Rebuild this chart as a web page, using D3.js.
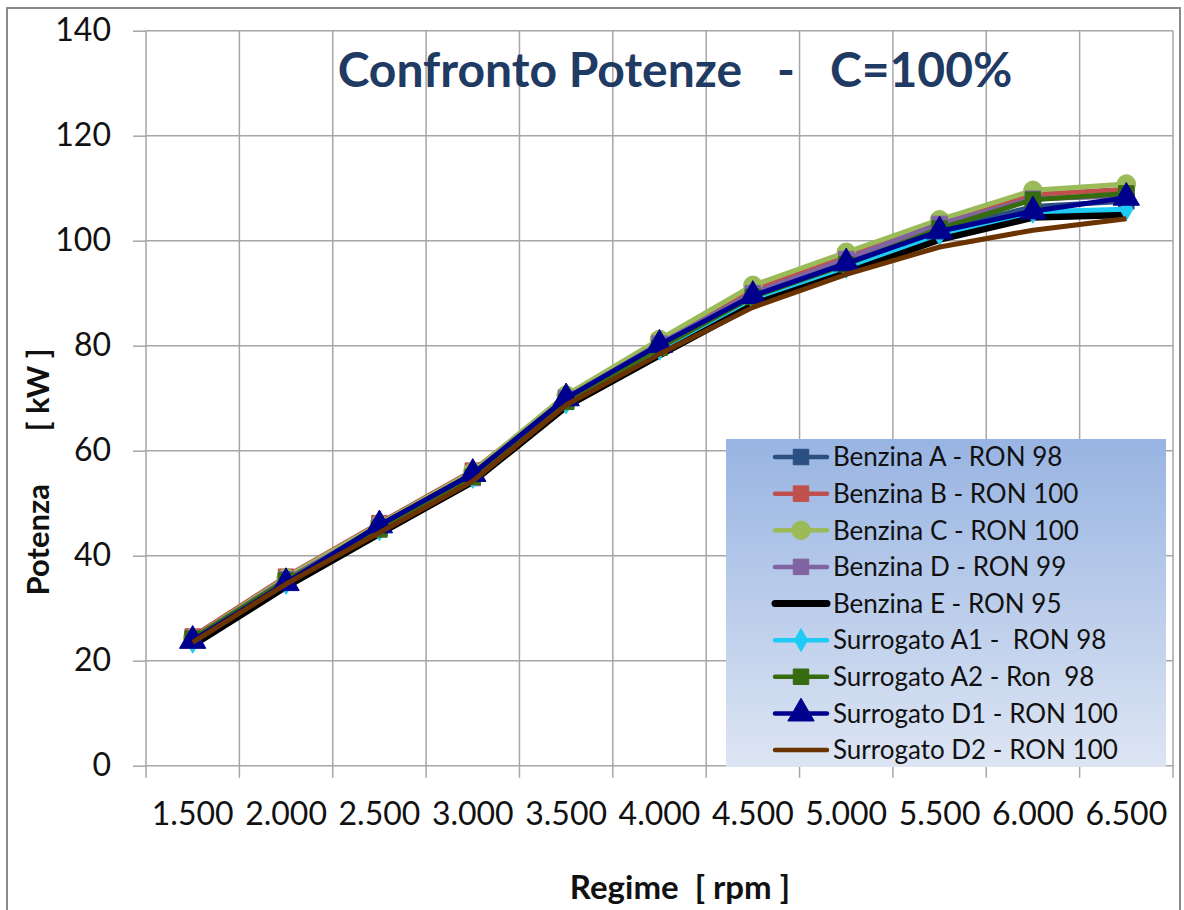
<!DOCTYPE html>
<html><head><meta charset="utf-8">
<script src="https://cdn.jsdelivr.net/npm/d3@7"></script>
<style>
html,body{margin:0;padding:0;background:#fff;}
svg text{font-family:Lato,"Open Sans",sans-serif;}
</style></head>
<body><svg id="chart" width="1184" height="910"></svg>
<script>
const categories = ["1.500","2.000","2.500","3.000","3.500","4.000","4.500","5.000","5.500","6.000","6.500"];
const yTicks = [0,20,40,60,80,100,120,140];
const seriesNames = ["Benzina A - RON 98","Benzina B - RON 100","Benzina C - RON 100","Benzina D - RON 99","Benzina E - RON 95","Surrogato A1 -  RON 98","Surrogato A2 - Ron  98","Surrogato D1 - RON 100","Surrogato D2 - RON 100"];
const benzinaA  = [24.0,35.2,45.3,55.2,69.5,79.8,89.5,95.5,102.0,106.5,107.5];
const benzinaB  = [24.6,36.0,46.2,56.2,70.2,80.8,90.5,97.0,103.5,108.8,109.8];
const benzinaC  = [24.3,35.8,46.0,56.0,70.6,81.2,91.5,97.8,104.0,109.6,110.8];
const benzinaD  = [24.2,35.5,45.5,54.8,70.0,80.4,90.0,96.5,103.2,108.0,108.5];
const benzinaE  = [23.0,34.2,44.3,54.2,68.5,78.3,87.8,94.0,100.3,104.5,105.0];
const surrA1    = [23.6,34.8,45.0,55.0,69.2,79.4,89.0,95.0,101.3,105.5,106.0];
const surrA2    = [24.2,35.3,45.0,55.0,69.3,79.6,89.3,95.5,102.3,107.8,109.0];
const surrD1    = [23.8,34.8,45.8,55.6,70.0,80.2,89.5,95.7,101.8,105.6,108.2];
const surrD2    = [23.5,34.6,44.4,54.2,68.7,78.4,87.3,93.6,98.8,102.0,104.2];
const seriesValues = [benzinaA,benzinaB,benzinaC,benzinaD,benzinaE,surrA1,surrA2,surrD1,surrD2];
const colors = ["#2a4f80","#c0504d","#9bbb59","#8064a2","#000000","#1ecbf5","#376b10","#00008f","#6b3300"];
const markers = ["square","square","circle","square",null,"diamond","square","triangle",null];
const widths = [5,5,5,5,7.5,5,5,5,5];

const svg = d3.select("#chart");
const L=146,R=1173,T=30.7,B=765.7;
const x = d3.scaleBand().domain(categories).range([L,R]).paddingInner(0).paddingOuter(0);
const y = d3.scaleLinear().domain([0,140]).range([B,T]);
const cx = c => x(c)+x.bandwidth()/2;

// outer border
svg.append("rect").attr("x",7).attr("y",8).attr("width",1173).attr("height",920)
  .attr("fill","#fff").attr("stroke","#8a8a8a").attr("stroke-width",2);

const grid="#a6a6a6";
// horizontal grid + y axis
const yAx = svg.append("g").attr("transform",`translate(${L},0)`)
  .call(d3.axisLeft(y).tickValues(yTicks).tickSize(13).tickPadding(22).tickFormat(d3.format("d")));
yAx.select(".domain").remove();
yAx.selectAll("line").attr("stroke",grid).attr("stroke-width",1.5);
yAx.selectAll("text").attr("font-size",32).attr("fill","#111");
svg.append("g").selectAll("line").data(yTicks).join("line")
  .attr("x1",L).attr("x2",R).attr("y1",d=>y(d)).attr("y2",d=>y(d))
  .attr("stroke",grid).attr("stroke-width",1.5);
// vertical grid lines at category boundaries
const bounds = categories.map(c=>x(c)).concat([x(categories[categories.length-1])+x.bandwidth()]);
svg.append("g").selectAll("line").data(bounds).join("line")
  .attr("x1",d=>d).attr("x2",d=>d).attr("y1",T).attr("y2",B+12)
  .attr("stroke",grid).attr("stroke-width",1.5);
// x axis labels
const xAx = svg.append("g").attr("transform",`translate(0,${B})`)
  .call(d3.axisBottom(x).tickSize(0).tickPadding(37));
xAx.select(".domain").remove();
xAx.selectAll("text").attr("font-size",32).attr("fill","#111");

// title
svg.append("text").attr("x",675).attr("y",87).attr("text-anchor","middle")
  .attr("font-size",48).attr("font-weight","bold").attr("fill","#1f3a63")
  .style("white-space","pre").text("Confronto Potenze   -   C=100%");
// axis titles
svg.append("text").attr("x",680).attr("y",899).attr("text-anchor","middle")
  .attr("font-size",33).attr("font-weight","bold").attr("fill","#111")
  .style("white-space","pre").text("Regime  [ rpm ]");
svg.append("text").attr("transform","translate(49,472) rotate(-90)").attr("text-anchor","middle")
  .attr("font-size",31).attr("font-weight","bold").attr("fill","#111")
  .style("white-space","pre").text("Potenza       [ kW ]");

const symType = {square:d3.symbolSquare,circle:d3.symbolCircle,triangle:d3.symbolTriangle,diamond:d3.symbolDiamond};
const symSize = {square:240,circle:270,triangle:300,diamond:150};
const line = d3.line().x((d,i)=>cx(categories[i])).y(d=>y(d));

seriesValues.forEach((vals,si)=>{
  const g = svg.append("g");
  g.append("path").datum(vals).attr("d",line).attr("fill","none")
    .attr("stroke",colors[si]).attr("stroke-width",widths[si]).attr("stroke-linejoin","round");
  if(markers[si]){
    const s = d3.symbol().type(symType[markers[si]]).size(symSize[markers[si]]);
    g.selectAll("path.m").data(vals).join("path").attr("class","m")
      .attr("d",s).attr("transform",(d,i)=>`translate(${cx(categories[i])},${y(d)})`)
      .attr("fill",colors[si]).attr("stroke",colors[si]).attr("stroke-width",1);
  }
});

// legend
const defs = svg.append("defs");
const grad = defs.append("linearGradient").attr("id","lg").attr("x1",0).attr("y1",0).attr("x2",0).attr("y2",1);
grad.append("stop").attr("offset","0%").attr("stop-color","#98b4e2");
grad.append("stop").attr("offset","100%").attr("stop-color","#dde5f3");
const lg = svg.append("g");
lg.append("rect").attr("x",726).attr("y",439).attr("width",440).attr("height",328).attr("fill","url(#lg)");
const rowY = d3.scaleLinear().domain([0,8]).range([457,750]);
seriesNames.forEach((n,i)=>{
  const yy = rowY(i);
  lg.append("line").attr("x1",775).attr("x2",827).attr("y1",yy).attr("y2",yy)
    .attr("stroke",colors[i]).attr("stroke-width",i===4?7:4.5).attr("stroke-linecap","round");
  if(markers[i]){
    lg.append("path").attr("d",d3.symbol().type(symType[markers[i]]).size(symSize[markers[i]])())
      .attr("transform",`translate(801,${yy})`).attr("fill",colors[i]).attr("stroke",colors[i]);
  }
  lg.append("text").attr("x",833).attr("y",yy).attr("dy","0.36em").attr("font-size",26)
    .attr("fill","#111").style("white-space","pre").text(n);
});
</script></body></html>
